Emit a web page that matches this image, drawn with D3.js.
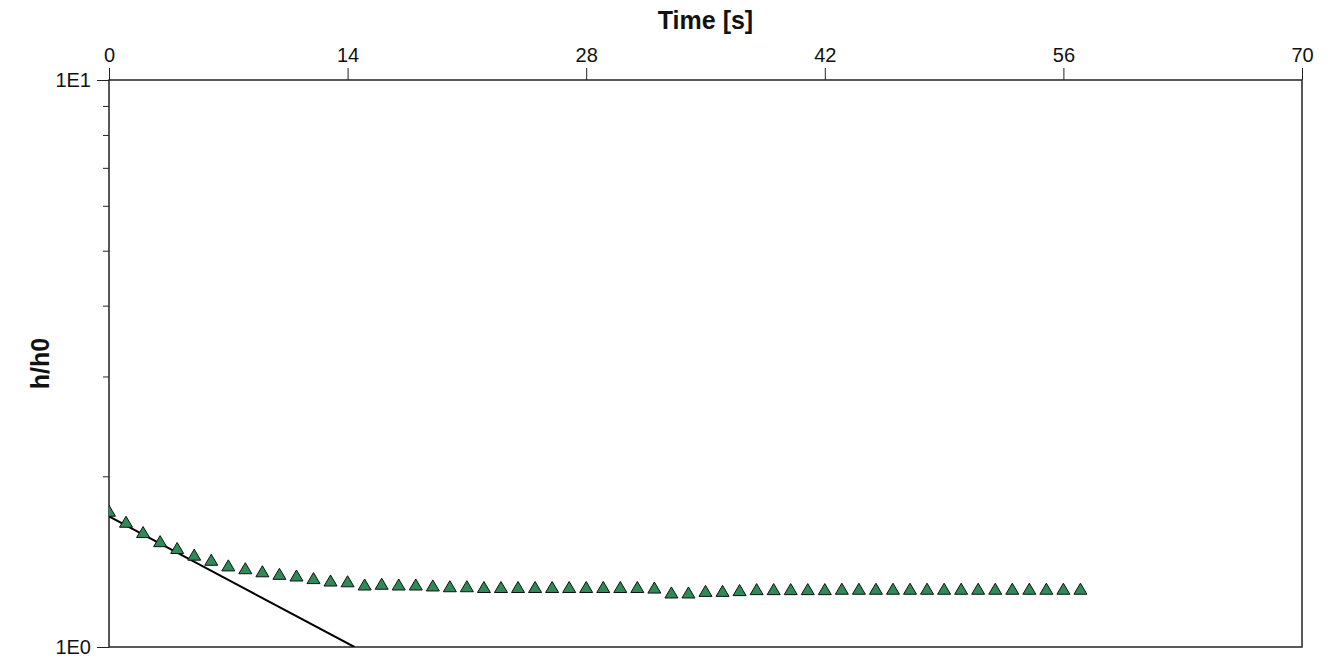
<!DOCTYPE html>
<html>
<head>
<meta charset="utf-8">
<script src="https://cdn.jsdelivr.net/npm/d3@7"></script>
<style>
  body { margin: 0; background: #fff; }
  text { font-family: Arial, "Liberation Sans", sans-serif; fill: #111; }
</style>
</head>
<body>
<div id="chart"></div>
<script>
// measured data: time [s] and h/h0
var times = [0,1,2,3,4,5,6,7,8,9,10,11,12,13,14,15,16,17,18,19,20,21,22,23,24,25,26,27,28,29,
             30,31,32,33,34,35,36,37,38,39,40,41,42,43,44,45,46,47,48,49,50,51,52,53,54,55,56,57];
var hRatio = [1.739,1.663,1.595,1.537,1.495,1.455,1.425,1.393,1.377,1.360,
              1.346,1.337,1.323,1.310,1.306,1.289,1.293,1.289,1.289,1.284,
              1.280,1.280,1.276,1.276,1.276,1.276,1.276,1.276,1.276,1.276,
              1.276,1.276,1.273,1.248,1.248,1.256,1.256,1.260,1.265,1.265,
              1.265,1.265,1.265,1.267,1.267,1.267,1.267,1.267,1.267,1.267,
              1.267,1.267,1.267,1.267,1.267,1.267,1.267,1.267];
// straight-line fit (two ends)
var fitT = [0, 14.4];
var fitH = [1.70, 1.0];

var xTicks = [0, 14, 28, 42, 56, 70];
var yMajor = [1, 10];
var yMajorLabels = ["1E0", "1E1"];
var yMinor = [2, 3, 4, 5, 6, 7, 8, 9];

var width = 1328, height = 659;
var margin = {top: 80, right: 26, bottom: 12, left: 109};

var svg = d3.select("#chart").append("svg")
    .attr("width", width)
    .attr("height", height);

var x = d3.scaleLinear().domain([0, 70]).range([margin.left, width - margin.right]);
var y = d3.scaleLog().domain([1, 10]).range([height - margin.bottom, margin.top]);

svg.append("clipPath").attr("id", "clip")
  .append("rect")
    .attr("x", x(0)).attr("y", y(10))
    .attr("width", x(70) - x(0)).attr("height", y(1) - y(10));

var axisColor = "#222";

// top axis
var xAxis = svg.append("g")
    .attr("transform", "translate(0," + y(10) + ")")
    .call(d3.axisTop(x).tickValues(xTicks).tickSize(12).tickPadding(6).tickFormat(d3.format("d")));
xAxis.select(".domain").remove();
xAxis.selectAll("line").attr("stroke", axisColor);
xAxis.selectAll("text").attr("font-size", 20).attr("fill", "#111")
    .style("font-family", "Arial, 'Liberation Sans', sans-serif");

// left axis, major
var yAxis = svg.append("g")
    .attr("transform", "translate(" + x(0) + ",0)")
    .call(d3.axisLeft(y).tickValues(yMajor).tickSize(12).tickPadding(6)
      .tickFormat(function(d, i){ return yMajorLabels[i]; }));
yAxis.select(".domain").remove();
yAxis.selectAll("line").attr("stroke", axisColor);
yAxis.selectAll("text").attr("font-size", 20).attr("fill", "#111")
    .style("font-family", "Arial, 'Liberation Sans', sans-serif");

// left axis, minor
var yMinorAxis = svg.append("g")
    .attr("transform", "translate(" + x(0) + ",0)")
    .call(d3.axisLeft(y).tickValues(yMinor).tickSize(6).tickFormat(""));
yMinorAxis.select(".domain").remove();
yMinorAxis.selectAll("line").attr("stroke", axisColor);

// frame
svg.append("rect")
    .attr("x", x(0)).attr("y", y(10))
    .attr("width", x(70) - x(0)).attr("height", y(1) - y(10))
    .attr("fill", "none")
    .attr("stroke", axisColor)
    .attr("stroke-width", 1.5);

var plot = svg.append("g").attr("clip-path", "url(#clip)");

// fit line
var line = d3.line()
    .x(function(d){ return x(d[0]); })
    .y(function(d){ return y(d[1]); });

plot.append("path")
    .datum(fitT.map(function(t, i){ return [t, fitH[i]]; }))
    .attr("d", line)
    .attr("fill", "none")
    .attr("stroke", "#000")
    .attr("stroke-width", 2);

// triangle marker centred on its box
var boxTriangle = {
  draw: function(ctx, size) {
    var w = Math.sqrt(size), h = w * 0.85;
    ctx.moveTo(0, -h / 2);
    ctx.lineTo(w / 2, h / 2);
    ctx.lineTo(-w / 2, h / 2);
    ctx.closePath();
  }
};

plot.selectAll(".pt")
    .data(times.map(function(t, i){ return [t, hRatio[i]]; }))
  .enter().append("path")
    .attr("class", "pt")
    .attr("transform", function(d){ return "translate(" + x(d[0]) + "," + y(d[1]) + ")"; })
    .attr("d", d3.symbol().type(boxTriangle).size(169))
    .attr("fill", "#2e8b57")
    .attr("stroke", "#111")
    .attr("stroke-width", 1);

// axis titles
svg.append("text")
    .attr("x", (x(0) + x(70)) / 2)
    .attr("y", 29)
    .attr("text-anchor", "middle")
    .attr("font-size", 25)
    .attr("font-weight", "bold")
    .text("Time [s]");

svg.append("text")
    .attr("transform", "translate(49," + (y(1) + y(10)) / 2 + ") rotate(-90)")
    .attr("text-anchor", "middle")
    .attr("font-size", 25)
    .attr("font-weight", "bold")
    .text("h/h0");
</script>
</body>
</html>
